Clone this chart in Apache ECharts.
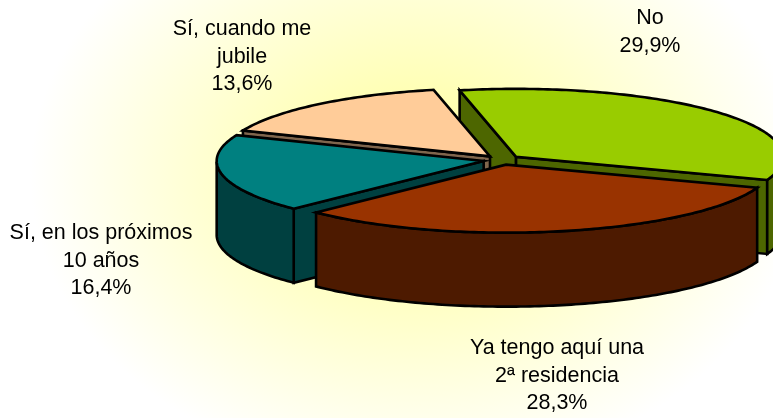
<!DOCTYPE html>
<html>
<head>
<meta charset="utf-8">
<style>
  html, body { margin: 0; padding: 0; background: #fff; }
  #chart { width: 773px; height: 418px; }
</style>
<script src="https://cdn.jsdelivr.net/npm/echarts@6/dist/echarts.min.js"></script>
</head>
<body>
<div id="chart"></div>
<script>
const categories = ["No", "Ya tengo aquí una\n2ª residencia", "Sí, en los próximos\n10 años", "Sí, cuando me\njubile"];
const percents = [29.9, 28.3, 16.4, 13.6];

const topColors = ["#99CC00", "#993300", "#008080", "#FFCC99"];
const wallColors = ["#4D6600", "#4D1A00", "#004040", "#80664D"];
const labelCentres = [[650, 32], [557, 376], [101, 261], [242, 57]];

// back to front, slices overlap each other
const drawOrder = [0, 3, 2, 1];

const cx = 502;
const cy = 160;
const rx = 267;
const ry = 68;
const depth = 74;
const explode = 0.07;
const firstAngle = -102.2;

const total = percents.reduce((a, b) => a + b, 0);

function rad(deg) {
  return (deg * Math.PI) / 180;
}

function sliceAngles(index) {
  let start = firstAngle;
  for (let i = 0; i < index; i++) {
    start += (percents[i] / total) * 360;
  }
  return [start, start + (percents[index] / total) * 360];
}

function polygon(points, fill) {
  return {
    type: "polygon",
    shape: { points: points },
    style: { fill: fill, stroke: "#000", lineWidth: 2.6, lineJoin: "miter" },
  };
}

function renderSlice(params, api) {
  const index = drawOrder[params.dataIndex];
  const [a, b] = sliceAngles(index);
  const mid = rad((a + b) / 2);
  const ox = cx + explode * rx * Math.cos(mid);
  const oy = cy + explode * ry * Math.sin(mid);

  const onRim = (deg, drop) => [
    ox + rx * Math.cos(rad(deg)),
    oy + ry * Math.sin(rad(deg)) + (drop || 0),
  ];
  const rimPoints = [];
  for (let t = a; t < b; t += 1) {
    rimPoints.push(onRim(t));
  }
  rimPoints.push(onRim(b));

  const children = [];
  const wall = wallColors[index];

  // flat cut faces, only the ones turned to the viewer
  if (Math.cos(rad(a)) < 0) {
    children.push(polygon([[ox, oy], onRim(a), onRim(a, depth), [ox, oy + depth]], wall));
  }
  if (Math.cos(rad(b)) > 0) {
    children.push(polygon([[ox, oy], onRim(b), onRim(b, depth), [ox, oy + depth]], wall));
  }

  // curved outer wall, front half of the rim only
  const front = [];
  for (let t = a; t < b; t += 1) {
    if (Math.sin(rad(t)) > 0) front.push(t);
  }
  if (Math.sin(rad(b)) > 0) front.push(b);
  if (front.length > 1) {
    const upper = front.map((t) => onRim(t));
    const lower = front.map((t) => onRim(t, depth)).reverse();
    children.push(polygon(upper.concat(lower), wall));
  }

  children.push(polygon([[ox, oy]].concat(rimPoints), topColors[index]));

  const value = api.value(0);
  children.push({
    type: "text",
    x: labelCentres[index][0],
    y: labelCentres[index][1],
    z2: 10,
    style: {
      text: categories[index] + "\n" + value.toFixed(1).replace(".", ",") + "%",
      fill: "#000",
      font: '21.5px "Liberation Sans", Arial, sans-serif',
      lineHeight: 27.5,
      align: "center",
      verticalAlign: "middle",
    },
  });

  return { type: "group", children: children };
}

let myChart = echarts.init(document.getElementById("chart"));

const bgScale = 0.78;

const option = {
  animation: false,
  backgroundColor: "#fff",
  graphic: [
    {
      type: "rect",
      z: -10,
      silent: true,
      scaleY: bgScale,
      shape: { x: 0, y: 0, width: 773, height: 418 / bgScale },
      style: {
        fill: {
          type: "radial",
          global: true,
          x: 415,
          y: 175 / bgScale,
          r: 385,
          colorStops: [
            { offset: 0, color: "#FFFF99" },
            { offset: 1, color: "#FFFFFF" },
          ],
        },
      },
    },
  ],
  series: [
    {
      type: "custom",
      coordinateSystem: "none",
      renderItem: renderSlice,
      clip: false,
      data: drawOrder.map((i) => percents[i]),
    },
  ],
};

option && myChart.setOption(option);
</script>
</body>
</html>
